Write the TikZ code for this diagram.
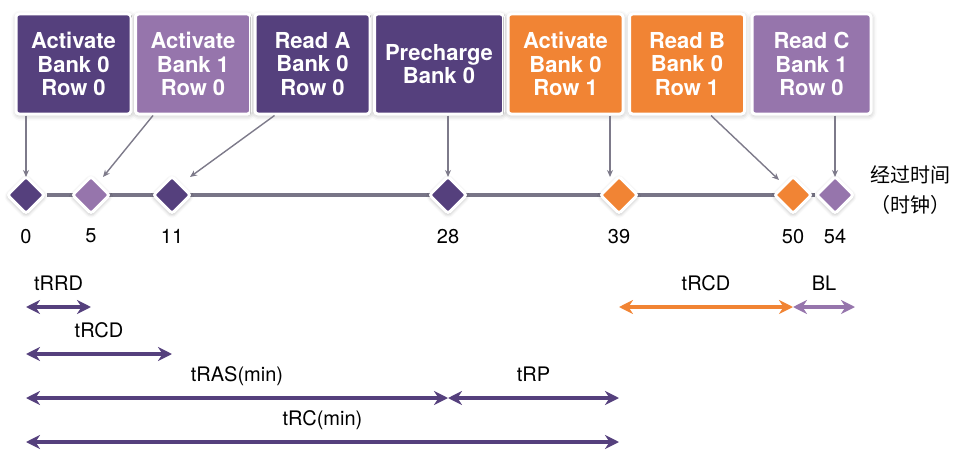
\documentclass[tikz,border=0pt]{standalone}
\usepackage{fontspec}
\setmainfont{TeX Gyre Heros}
\newfontfamily\cjk{Noto Sans CJK SC}
\usetikzlibrary{positioning,arrows.meta,shapes.geometric,shadows.blur,backgrounds}
\definecolor{DeepPurple}{RGB}{85,64,125}
\definecolor{SoftPurple}{RGB}{150,117,172}
\definecolor{CmdOrange}{RGB}{241,132,52}
\definecolor{TickGray}{RGB}{125,122,138}
\definecolor{LineGray}{RGB}{120,117,135}
\tikzset{
  cmd/.style={draw=white,line width=3pt,rounded corners=3pt,text=white,
    minimum width=115pt,minimum height=100pt,align=center,
    font=\fontsize{22}{23.5}\selectfont\bfseries,
    blur shadow={shadow xshift=0.5pt,shadow yshift=-1.5pt,shadow blur radius=5pt,
      shadow blur extra rounding=2pt,shadow opacity=30}},
  darkcmd/.style={cmd,fill=DeepPurple},
  lightcmd/.style={cmd,fill=SoftPurple},
  orangecmd/.style={cmd,fill=CmdOrange},
  clk/.style={diamond,aspect=1,minimum size=38pt,inner sep=0pt,draw=white,
    line width=3pt,rounded corners=2.5pt,
    blur shadow={shadow xshift=0pt,shadow yshift=-1.5pt,shadow blur radius=4pt,
      shadow opacity=35}},
  darkclk/.style={clk,fill=DeepPurple},
  lightclk/.style={clk,fill=SoftPurple},
  orangeclk/.style={clk,fill=CmdOrange},
  num/.style={font=\fontsize{20}{24}\selectfont},
  pointer/.style={-{Stealth[length=7pt,width=6pt]},line width=1.4pt,draw=TickGray},
  span/.style={{Stealth[length=14pt,width=14pt]}-{Stealth[length=14pt,width=14pt]},
    line width=3.5pt},
  spanlabel/.style={font=\fontsize{20}{24}\selectfont,text=black,anchor=base,yshift=17pt}
}

\begin{document}
\begin{tikzpicture}[x=1pt,y=-1pt,node distance=1.5pt]
  \useasboundingbox (0,0) rectangle (953,452);
  % command boxes
  \node[darkcmd] (act0) at (73.5,64) {Activate\\Bank 0\\Row 0};
  \node[lightcmd,right=of act0] (act1) {Activate\\Bank 1\\Row 0};
  \node[darkcmd,right=of act1] (rdA) {Read A\\Bank 0\\Row 0};
  \node[darkcmd,right=of rdA,minimum width=129pt] (pre0) {Precharge\\Bank 0};
  \node[orangecmd,right=of pre0] (act01) {Activate\\Bank 0\\Row 1};
  \node[orangecmd,right=of act01,xshift=2pt] (rdB) {Read B\\Bank 0\\Row 1};
  \node[lightcmd,right=of rdB,minimum width=119pt,xshift=3pt] (rdC) {Read C\\Bank 1\\Row 0};

  % clock marks
  \node[darkclk] (d0) at (26,195) {};
  \node[lightclk] (d5) at (91,195) {};
  \node[darkclk] (d11) at (172,195) {};
  \node[darkclk] (d28) at (448,195) {};
  \node[orangeclk] (d39) at (619,195) {};
  \node[orangeclk] (d50) at (793,195) {};
  \node[lightclk] (d54) at (835,195) {};
  \begin{scope}[on background layer]
    \draw[LineGray,line width=4pt] (d0) -- (d54);
  \end{scope}
  \foreach \n in {0,5,11,28,39,50,54}
    \node[num,below=10pt of d\n] (n\n) {\n};
  \node[font={\fontsize{20}{30}\selectfont\cjk},align=center,right=11pt of d54,yshift=5pt] (clkcap) {经过时间\\（时钟）};

  % commands to clock marks
  \draw[pointer] (act0.south -| d0) -- ([yshift=18pt]d0.center);
  \draw[pointer] ([xshift=-40pt]act1.south) -- ([xshift=12pt,yshift=18pt]d5.center);
  \draw[pointer] ([xshift=-38pt]rdA.south) -- ([xshift=18pt,yshift=18pt]d11.center);
  \draw[pointer] (pre0.south -| d28) -- ([yshift=18pt]d28.center);
  \draw[pointer] ([xshift=-9pt]act01.south -| d39) -- ([xshift=-9pt,yshift=18pt]d39.center);
  \draw[pointer] ([xshift=24pt]rdB.south) -- ([xshift=-14pt,yshift=15pt]d50.center);
  \draw[pointer] (rdC.south -| d54) -- ([yshift=18pt]d54.center);

  % timing spans
  \coordinate (rowA) at (0,307);
  \coordinate (rowB) at (0,354);
  \coordinate (rowC) at (0,398);
  \coordinate (rowD) at (0,442);
  \draw[span,color=DeepPurple] (d0 |- rowA) -- node[spanlabel]{tRRD} (d5 |- rowA);
  \draw[span,color=DeepPurple] (d0 |- rowB) -- node[spanlabel]{tRCD} (d11 |- rowB);
  \draw[span,color=DeepPurple] (d0 |- rowC) -- node[spanlabel]{tRAS(min)} (d28 |- rowC);
  \draw[span,color=DeepPurple] (d28 |- rowC) -- node[spanlabel]{tRP} (d39 |- rowC);
  \draw[span,color=DeepPurple] (d0 |- rowD) -- node[spanlabel]{tRC(min)} (d39 |- rowD);
  \draw[span,color=CmdOrange] (d39 |- rowA) -- node[spanlabel]{tRCD} (d50 |- rowA);
  \draw[span,color=SoftPurple] (d50 |- rowA) -- node[spanlabel]{BL} ([xshift=20pt]d54 |- rowA);
\end{tikzpicture}
\end{document}
